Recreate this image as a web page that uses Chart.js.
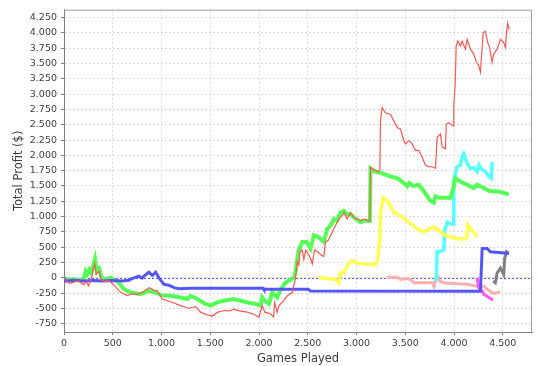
<!DOCTYPE html>
<html>
<head>
<meta charset="utf-8">
<script src="https://cdn.jsdelivr.net/npm/chart.js@4"></script>
<style>
  body { margin: 0; background: #fff; }
  #grafico { display: block; }
</style>
</head>
<body>
<canvas id="grafico" width="539" height="366"></canvas>
<script>
// tick labels
const xTicks = [0,500,1000,1500,2000,2500,3000,3500,4000,4500];
const yTicks = [-750,-500,-250,0,250,500,750,1000,1250,1500,1750,2000,2250,2500,2750,3000,3250,3500,3750,4000,4250];

// series: games played (x) and total profit (y)
const redX = [0,30,60,100,150,200,230,250,280,300,315,330,360,380,420,460,513,582,650,700,752,810,872,920,957,1008,1128,1196,1278,1350,1400,1460,1521,1580,1640,1700,1740,1800,1880,1940,1999,2033,2060,2119,2150,2160,2187,2204,2250,2290,2341,2375,2392,2409,2420,2444,2460,2480,2510,2529,2546,2570,2600,2640,2665,2682,2710,2751,2785,2819,2853,2870,2905,2939,2970,3007,3041,3080,3110,3137,3144,3178,3219,3240,3246,3263,3297,3349,3383,3418,3451,3486,3503,3536,3571,3605,3639,3673,3707,3741,3776,3810,3827,3861,3879,3913,3920,3946,3991,3998,4008,4015,4022,4039,4066,4083,4117,4135,4169,4203,4230,4254,4271,4299,4322,4346,4366,4391,4408,4442,4476,4510,4528,4538,4551,4565];
const redY = [0,-60,-90,-70,-50,-110,-60,-130,-20,150,230,60,110,-30,-60,-40,-120,-240,-290,-260,-270,-230,-160,-200,-210,-346,-410,-453,-496,-470,-560,-600,-624,-560,-533,-540,-510,-540,-560,-590,-640,-453,-560,-586,-640,-400,-560,-453,-380,-293,-240,0,267,214,427,454,300,454,374,320,230,454,427,370,347,587,614,747,854,960,1014,1067,960,1067,987,960,934,960,934,934,1803,1760,1733,1760,2560,2774,2694,2667,2560,2454,2427,2240,2187,2240,2187,2080,2080,1974,1840,1814,1814,1787,2294,2347,2134,2107,2507,2534,2480,2827,3040,3307,3787,3867,3787,3867,3734,3894,3734,3654,3520,3467,3360,4000,4027,3840,3760,3520,3654,3734,3894,3840,3760,4000,4160,4054];

const blueX = [0,20,100,200,300,400,500,600,667,690,718,769,800,820,871,906,940,974,1025,1076,1128,1179,1300,1600,2044,2050,2505,2529,4271,4289,4340,4373,4545,4565];
const blueY = [0,-53,-40,-50,-45,-50,-45,-50,-40,-16,0,27,-5,30,91,38,91,0,-106,-120,-160,-176,-170,-170,-170,-186,-186,-213,-220,480,480,427,400,400];

const greenX = [0,20,60,100,150,200,222,240,260,280,300,318,335,360,385,420,460,490,530,564,615,684,786,871,940,991,1093,1196,1265,1300,1367,1452,1504,1570,1640,1742,1810,1880,1965,2016,2033,2060,2101,2136,2187,2221,2272,2324,2360,2375,2392,2409,2444,2490,2529,2563,2610,2665,2700,2734,2768,2800,2836,2870,2905,2939,2973,3041,3080,3137,3144,3195,3263,3349,3418,3486,3520,3540,3580,3639,3690,3759,3793,3810,3850,3964,3998,4015,4066,4135,4203,4237,4305,4373,4442,4510,4561];
const greenY = [0,-20,-30,-20,-40,-30,107,60,134,80,200,304,107,150,0,-27,0,-10,-40,-80,-186,-240,-267,-213,-240,-282,-293,-320,-346,-293,-346,-426,-453,-400,-373,-346,-373,-400,-426,-453,-320,-373,-426,-240,-320,-186,-80,-27,0,107,294,454,587,587,480,694,667,587,800,854,960,934,1067,1094,1040,1040,987,907,934,934,1787,1734,1707,1654,1627,1547,1494,1547,1500,1520,1414,1254,1227,1330,1307,1307,1494,1627,1574,1520,1467,1520,1467,1414,1414,1387,1360];

const yellowX = [2614,2700,2785,2819,2836,2870,2921,2955,3007,3041,3110,3195,3220,3239,3246,3274,3315,3349,3383,3451,3536,3622,3690,3759,3793,3844,3912,3998,4100,4130,4141,4172,4203,4237];
const yellowY = [0,-10,-27,-80,80,90,240,280,240,240,224,214,320,640,1067,1307,1254,1174,1067,1014,907,800,747,811,830,774,694,651,630,650,864,800,747,667];

const magentaX = [4237,4254,4289,4305,4357,4401];
const magentaY = [0,-160,-213,-267,-320,-362];

const cyanX = [3793,3820,3827,3850,3895,3905,3930,3964,3990,3998,4015,4032,4066,4083,4100,4117,4135,4169,4203,4237,4258,4280,4322,4357,4381,4391,4400];
const cyanY = [-27,-10,427,427,454,774,907,880,880,1600,1707,1814,1840,1974,2027,1947,1867,1787,1800,1734,1840,1780,1734,1654,1627,1867,1890];

const pinkX = [3315,3418,3451,3520,3555,3588,3690,3776,3793,3810,3844,3860,3895,4032,4135,4220,4271,4305,4340,4408,4476];
const pinkY = [11,11,-27,-10,-27,-80,-80,-80,-133,-50,0,-60,-80,-96,-106,-133,-149,-133,-186,-256,-229];

const grayX = [4401,4424,4442,4476,4493,4510,4520,4538,4560];
const grayY = [-53,-80,80,160,110,53,320,427,400];

const series = [
    { x: redX, y: redY, cor: '#ff5555', largura: 1.2 },
    { x: blueX, y: blueY, cor: '#5555ff', largura: 3 },
    { x: greenX, y: greenY, cor: '#55ff55', largura: 4 },
    { x: yellowX, y: yellowY, cor: '#ffff55', largura: 3.5 },
    { x: magentaX, y: magentaY, cor: '#ff55ff', largura: 3 },
    { x: cyanX, y: cyanY, cor: '#55ffff', largura: 3.5 },
    { x: pinkX, y: pinkY, cor: '#ffafaf', largura: 3 },
    { x: grayX, y: grayY, cor: '#808080', largura: 3 }
];

function formatar(v) {
    return String(v).replace(/\B(?=(\d{3})+(?!\d))/g, '.');
}

// blue dashed zero marker + grey plot outline
const moldura = {
    id: 'moldura',
    beforeDatasetsDraw(chart) {
        const { ctx, chartArea: a, scales: { y } } = chart;
        const py = Math.round(y.getPixelForValue(0)) + 0.5;
        ctx.save();
        ctx.strokeStyle = '#5a5aff';
        ctx.lineWidth = 1;
        ctx.setLineDash([2, 2]);
        ctx.beginPath();
        ctx.moveTo(a.left, py);
        ctx.lineTo(a.right, py);
        ctx.stroke();
        ctx.restore();
    },
    afterDraw(chart) {
        const { ctx, chartArea: a } = chart;
        ctx.save();
        ctx.strokeStyle = '#a0a0a0';
        ctx.lineWidth = 1;
        ctx.beginPath();
        ctx.moveTo(a.left, a.top + 0.5);
        ctx.lineTo(a.right - 0.5, a.top + 0.5);
        ctx.lineTo(a.right - 0.5, a.bottom);
        ctx.stroke();
        ctx.restore();
    }
};

const fonteTick = { family: 'DejaVu Sans', size: 9.5 };
const fonteTitulo = { family: 'DejaVu Sans', size: 11.5 };

new Chart(document.getElementById('grafico'), {
    type: 'line',
    data: {
        datasets: series.map(s => ({
            data: s.x.map((x, i) => ({ x: x, y: s.y[i] })),
            borderColor: s.cor,
            backgroundColor: s.cor,
            borderWidth: s.largura,
            pointRadius: 0,
            tension: 0,
            fill: false
        }))
    },
    options: {
        responsive: false,
        animation: false,
        events: [],
        layout: { padding: { top: 3, right: 7, left: 0, bottom: 0 } },
        plugins: { legend: { display: false }, tooltip: { enabled: false } },
        scales: {
            x: {
                type: 'linear',
                min: 0,
                max: 4800,
                afterFit: s => { s.height = 34; },
                afterBuildTicks: s => { s.ticks = xTicks.map(v => ({ value: v })); },
                grid: { color: '#dcdcdc', tickLength: 3, tickColor: '#808080', tickBorderDash: [] },
                border: { display: true, color: '#808080', dash: [2, 2] },
                ticks: { autoSkip: false, maxRotation: 0, padding: 3, color: '#404040', font: fonteTick, callback: v => formatar(v) },
                title: { display: true, text: 'Games Played', color: '#404040', font: fonteTitulo, padding: { top: 0, bottom: 0 } }
            },
            y: {
                min: -884,
                max: 4378,
                afterFit: s => { s.width = 64; },
                afterBuildTicks: s => { s.ticks = yTicks.map(v => ({ value: v })); },
                grid: { color: '#dcdcdc', tickLength: 3, tickColor: '#808080', tickBorderDash: [] },
                border: { display: true, color: '#808080', dash: [2, 2] },
                ticks: { autoSkip: false, padding: 4, color: '#404040', font: fonteTick, callback: v => formatar(v) },
                title: { display: true, text: 'Total Profit ($)', color: '#404040', font: fonteTitulo, padding: { top: 12, bottom: 0 } }
            }
        }
    },
    plugins: [moldura]
});
</script>
</body>
</html>
